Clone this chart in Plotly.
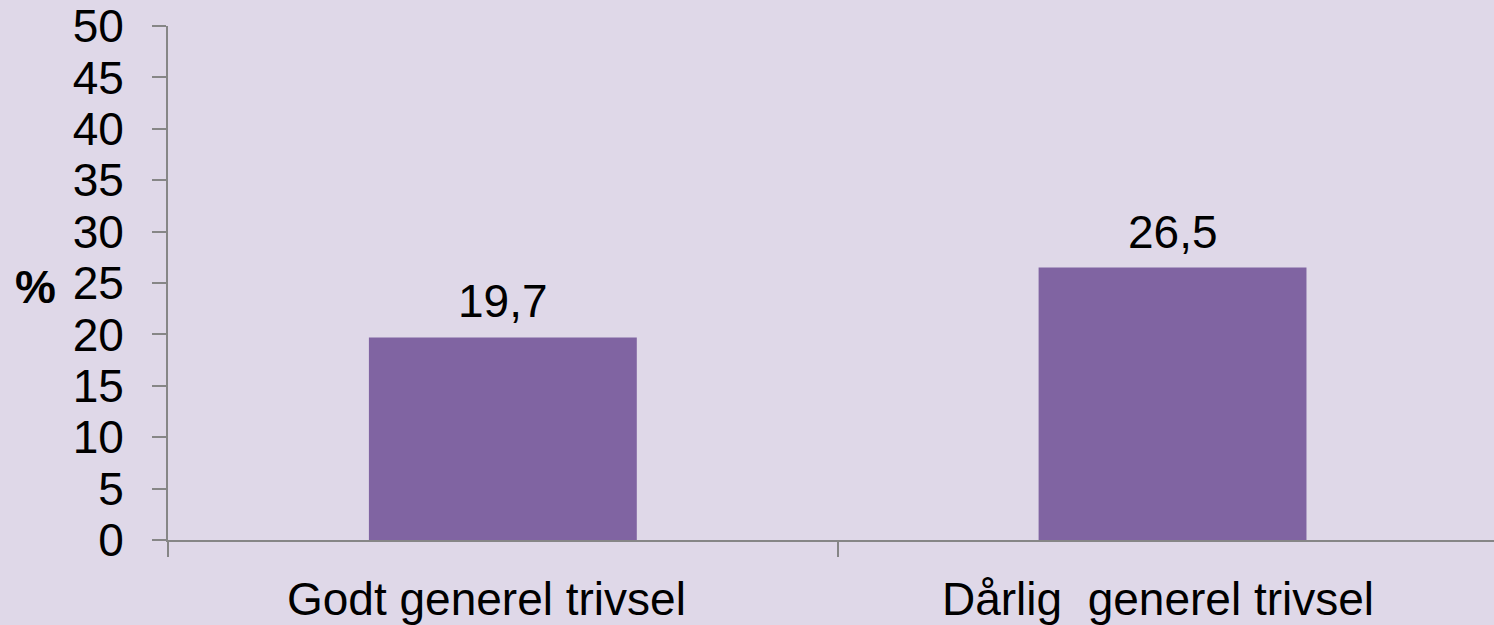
import plotly.graph_objects as go

categories = ["Godt generel trivsel", "Dårlig  generel trivsel"]
values = [19.7, 26.5]
value_labels = ["19,7", "26,5"]
y_ticks = [0, 5, 10, 15, 20, 25, 30, 35, 40, 45, 50]

BG = "#DFD8E8"
AXIS = "#868686"
FONT = "Liberation Sans, Arial, sans-serif"

fig = go.Figure()
fig.add_trace(go.Bar(
    x=categories,
    y=values,
    marker=dict(color="#8064A2", line=dict(width=0)),
    cliponaxis=False,
))

for c, v, t in zip(categories, values, value_labels):
    fig.add_annotation(
        x=c, y=v, text=t,
        xref="x", yref="y",
        xanchor="center", yanchor="bottom",
        yshift=8,
        showarrow=False,
        font=dict(family=FONT, size=46, color="black"),
    )

# category labels (drawn as annotations so they can sit slightly left, as in the original)
for c, dx in zip(categories, [-16, -15]):
    fig.add_annotation(
        x=c, y=0, text=c.replace(" ", "&nbsp;"),
        xref="x", yref="paper",
        xanchor="center", yanchor="top",
        xshift=dx, yshift=-31,
        showarrow=False,
        font=dict(family=FONT, size=46, color="black"),
    )

fig.update_layout(
    width=1494,
    height=625,
    margin=dict(l=168, r=0, t=26, b=85),
    paper_bgcolor=BG,
    plot_bgcolor=BG,
    bargap=0.6,
    showlegend=False,
    font=dict(family=FONT, color="black"),
)

fig.update_xaxes(
    type="category",
    range=[-0.5, 1.48],
    showline=True,
    linecolor=AXIS,
    linewidth=2,
    ticks="outside",
    tickson="boundaries",
    ticklen=15,
    tickwidth=2,
    tickcolor=AXIS,
    showticklabels=False,
    showgrid=False,
    zeroline=False,
)

fig.update_yaxes(
    range=[0, 50],
    tickvals=y_ticks,
    ticktext=[str(v) for v in y_ticks],
    showline=True,
    linecolor=AXIS,
    linewidth=2,
    ticks="outside",
    ticklen=14,
    tickwidth=2,
    tickcolor=AXIS,
    ticklabelstandoff=19,
    tickfont=dict(family=FONT, size=46, color="black"),
    showgrid=False,
    zeroline=False,
)

fig.add_annotation(
    text="<b>%</b>",
    xref="paper", yref="y",
    x=(35 - 168) / 1326, y=24.6,
    xanchor="center", yanchor="middle",
    showarrow=False,
    font=dict(family=FONT, size=46, color="black"),
)

fig.write_html(
    "out.html",
    config={"displayModeBar": False},
    post_script="document.body.style.margin='0';document.body.style.padding='0';document.body.style.overflow='hidden';window.dispatchEvent(new Event('resize'));",
)
